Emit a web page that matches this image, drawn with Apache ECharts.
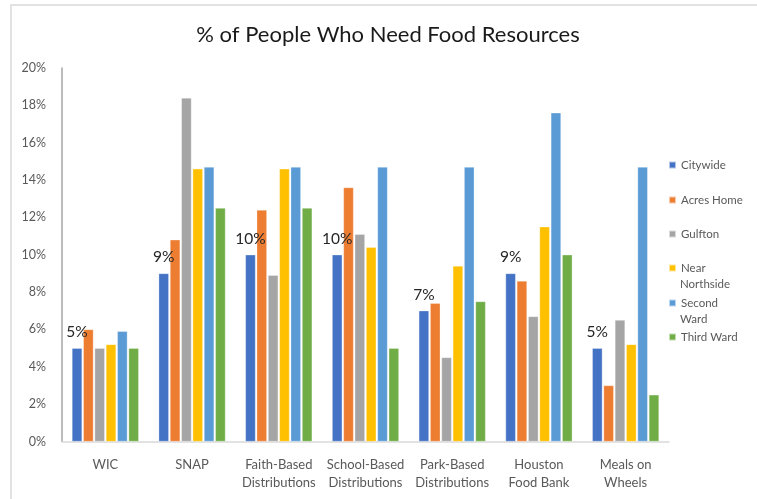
<!DOCTYPE html>
<html><head><meta charset="utf-8">
<script src="https://cdn.jsdelivr.net/npm/echarts@6/dist/echarts.min.js"></script>
<style>html,body{margin:0;padding:0;background:#fff}#c{width:757px;height:499px}</style>
</head><body><div id="c"></div>
<script>
const categories = ['WIC','SNAP','Faith-Based\nDistributions','School-Based\nDistributions','Park-Based\nDistributions','Houston\nFood Bank','Meals on\nWheels'];
const seriesNames = ['Citywide','Acres Home','Gulfton','Near\nNorthside','Second\nWard','Third Ward'];
const citywide   = [5.0, 9.0, 10.0, 10.0, 7.0, 9.0, 5.0];
const acresHome  = [6.0, 10.8, 12.4, 13.6, 7.4, 8.6, 3.0];
const gulfton    = [5.0, 18.4, 8.9, 11.1, 4.5, 6.7, 6.5];
const nearNorth  = [5.2, 14.6, 14.6, 10.4, 9.4, 11.5, 5.2];
const secondWard = [5.9, 14.7, 14.7, 14.7, 14.7, 17.6, 14.7];
const thirdWard  = [5.0, 12.5, 12.5, 5.0, 7.5, 10.0, 2.5];
const yTicks = [0,2,4,6,8,10,12,14,16,18,20];

const colors = ['#4472C4','#ED7D31','#A5A5A5','#FFC000','#5B9BD5','#70AD47'];
const allData = [citywide, acresHome, gulfton, nearNorth, secondWard, thirdWard];
const font = 'Lato, "Open Sans", sans-serif';
const legendCenters = [165, 200, 234, 268, 303, 337];

const chart = echarts.init(document.getElementById('c'), null, {renderer:'canvas'});
const series = allData.map((d, i) => ({
  name: seriesNames[i], type: 'bar', data: d,
  barGap: '12%', barCategoryGap: '23%',
  itemStyle: {color: colors[i], borderColor: 'rgba(255,255,255,0.6)', borderWidth: 0.5},
  label: i === 0 ? {show: true, position: 'top', distance: 8, color: '#262626', fontSize: 15.5, fontFamily: font,
    formatter: p => Math.round(p.value) + '%'} : {show: false}
}));
const legends = seriesNames.map((n, i) => ({
  data: [n], left: 668, top: legendCenters[i] - 8, orient: 'vertical',
  icon: 'rect', itemWidth: 7, itemHeight: 7, itemGap: 0, padding: 0,
  formatter: name => name.split('\n')[0],
  textStyle: {color: '#595959', fontSize: 11.5, fontFamily: font, lineHeight: 16},
  selectedMode: false
}));
const legendSecondLines = [];
seriesNames.forEach((n, i) => {
  const parts = n.split('\n');
  if (parts.length > 1) {
    legendSecondLines.push({type: 'text', left: 680, top: legendCenters[i] + 16 - 8,
      style: {text: parts[1], fill: '#595959', font: '11.5px ' + font, lineHeight: 16, verticalAlign: 'top'}, silent: true});
  }
});
chart.setOption({
  animation: false,
  title: {text: '% of People Who Need Food Resources', left: 383, textAlign: 'center', top: 19,
    textStyle: {fontFamily: font, fontSize: 22, fontWeight: 'normal', color: '#1a1a1a'}},
  graphic: [{type: 'rect', shape: {x: 11, y: 5, width: 800, height: 600}, style: {fill: 'none', stroke: '#d9d9d9', lineWidth: 1.5}, silent: true}].concat(legendSecondLines),
  legend: legends,
  grid: {left: 62, right: 88, top: 68, bottom: 57.5},
  xAxis: {type: 'category', data: categories,
    axisLine: {lineStyle: {color: '#d9d9d9', width: 1.5}}, axisTick: {show: false},
    axisLabel: {color: '#595959', fontSize: 13, fontFamily: font, lineHeight: 18, margin: 14, interval: 0}},
  yAxis: {type: 'value', min: 0, max: 20, interval: 2,
    axisLine: {show: true, lineStyle: {color: '#a6a6a6', width: 1.5}}, axisTick: {show: false},
    splitLine: {show: false},
    axisLabel: {color: '#595959', fontSize: 12.5, fontFamily: font, margin: 16, formatter: v => yTicks.includes(v) ? v + '%' : ''}},
  series: series
});
</script></body></html>
